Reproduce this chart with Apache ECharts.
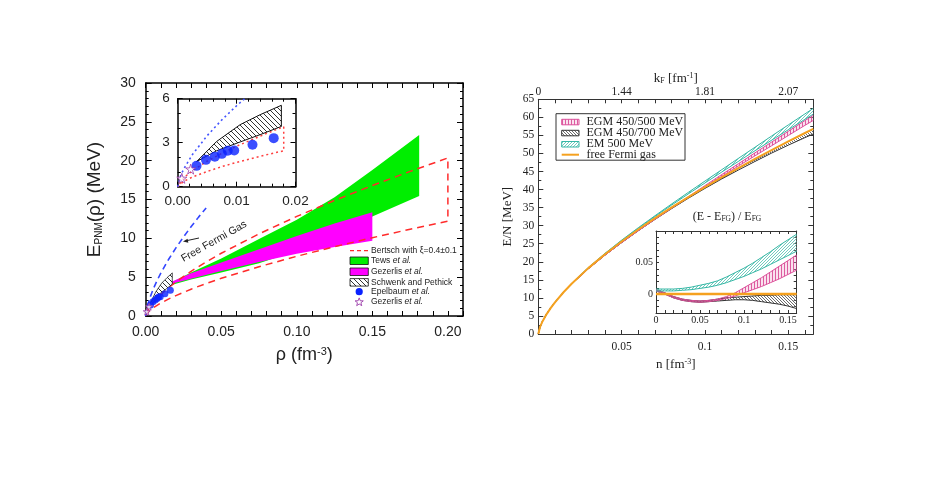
<!DOCTYPE html>
<html><head><meta charset="utf-8">
<script src="https://cdn.jsdelivr.net/npm/echarts@6/dist/echarts.min.js"></script>
<style>html,body{margin:0;padding:0;background:#fff}#c{width:926px;height:491px}</style>
</head><body><div id="c"></div>
<script>
// ---------------- LEFT PANEL DATA ----------------
const rhoFFG = [0, 0.0005, 0.001, 0.0025, 0.005, 0.0075, 0.01, 0.015, 0.02, 0.025, 0.03, 0.035, 0.04];
const eFFG   = [0, 0.75, 1.19, 2.19, 3.48, 4.56, 5.52, 7.24, 8.77, 10.17, 11.49, 12.73, 13.92];
const rhoBertsch   = [0, 0.001, 0.0025, 0.005, 0.0075, 0.01, 0.015, 0.02, 0.03, 0.04, 0.05, 0.075, 0.1, 0.125, 0.15, 0.175, 0.2];
const bertschUpper = [0, 0.60, 1.10, 1.74, 2.28, 2.76, 3.62, 4.39, 5.75, 6.96, 8.08, 10.58, 12.82, 14.88, 16.80, 18.62, 20.35];
const bertschLower = [0, 0.36, 0.66, 1.04, 1.37, 1.66, 2.17, 2.63, 3.45, 4.18, 4.85, 6.35, 7.69, 8.93, 10.08, 11.17, 12.21];
const rhoBertschInset   = [0, 0.001, 0.0025, 0.005, 0.0075, 0.01, 0.015, 0.018];
const bertschUpperInset = [0, 0.60, 1.10, 1.74, 2.28, 2.76, 3.62, 4.09];
const bertschLowerInset = [0, 0.36, 0.66, 1.04, 1.37, 1.66, 2.17, 2.45];
const rhoTews   = [0.017, 0.03, 0.05, 0.075, 0.1, 0.125, 0.15, 0.181];
const tewsUpper = [4.3, 5.6, 7.4, 9.9, 12.4, 15.3, 18.8, 23.3];
const tewsLower = [4.0, 4.7, 5.6, 6.8, 8.4, 10.4, 12.8, 15.45];
const rhoGez   = [0.016, 0.03, 0.05, 0.075, 0.1, 0.125, 0.15];
const gezUpper = [4.3, 5.5, 6.9, 8.6, 10.3, 11.9, 13.35];
const gezLower = [4.1, 4.8, 5.8, 6.95, 8.0, 8.9, 9.7];
const rhoSP   = [0.0032, 0.0066, 0.0106, 0.014, 0.0176];
const spUpper = [1.71, 3.08, 4.23, 4.91, 5.55];
const spLower = [1.71, 2.45, 3.05, 3.55, 4.11];
const rhoEpel = [0.0032, 0.0048, 0.0063, 0.0075, 0.0085, 0.0096, 0.0127, 0.0163];
const eEpel   = [1.42, 1.83, 2.05, 2.24, 2.45, 2.47, 2.86, 3.31];
const rhoQMC = [0.0007, 0.0022];
const eQMC   = [0.57, 1.2];
const leftXTickVals = [0, 0.05, 0.1, 0.15, 0.2];
const leftXTickLabels = ['0.00', '0.05', '0.10', '0.15', '0.20'];
const insetXTickVals = [0, 0.01, 0.02];
const insetXTickLabels = ['0.00', '0.01', '0.02'];

// ---------------- RIGHT PANEL DATA ----------------
const nGrid = [0, 0.001, 0.0025, 0.005, 0.0075, 0.01, 0.015, 0.02, 0.03, 0.04, 0.05, 0.06, 0.07, 0.08, 0.09, 0.1, 0.11, 0.12, 0.13, 0.14, 0.15, 0.16, 0.165];
const eFreeGas = [0, 1.89, 3.48, 5.52, 7.24, 8.77, 11.49, 13.92, 18.24, 22.09, 25.63, 28.95, 32.08, 35.07, 37.93, 40.69, 43.36, 45.95, 48.47, 50.92, 53.32, 55.67, 56.82];
const tealTop = [0, 1.91, 3.51, 5.56, 7.30, 8.84, 11.58, 14.03, 18.40, 22.33, 25.99, 29.44, 32.75, 36.02, 39.22, 42.36, 45.48, 48.62, 51.72, 54.84, 57.91, 60.96, 62.50];
const tealBot = [0, 1.90, 3.50, 5.55, 7.28, 8.81, 11.55, 13.99, 18.35, 22.24, 25.86, 29.27, 32.53, 35.70, 38.80, 41.83, 44.83, 47.79, 50.75, 53.67, 56.57, 59.46, 60.91];
const pinkTop = [0, 1.90, 3.50, 5.55, 7.27, 8.79, 11.48, 13.86, 18.09, 21.87, 25.35, 28.66, 31.82, 34.93, 38.01, 41.10, 44.14, 47.14, 50.17, 53.16, 56.15, 59.12, 60.57];
const pinkBot = [0, 1.90, 3.49, 5.54, 7.25, 8.77, 11.44, 13.84, 18.06, 21.83, 25.30, 28.60, 31.76, 34.82, 37.82, 40.77, 43.66, 46.50, 49.34, 52.14, 54.97, 57.79, 59.15];
const blackTop = [0, 1.90, 3.50, 5.55, 7.27, 8.79, 11.48, 13.86, 18.09, 21.87, 25.35, 28.66, 31.82, 34.86, 37.74, 40.53, 43.23, 45.86, 48.37, 50.87, 53.27, 55.61, 56.76];
const blackBot = [0, 1.90, 3.49, 5.54, 7.25, 8.77, 11.44, 13.84, 18.06, 21.83, 25.30, 28.60, 31.73, 34.72, 37.59, 40.32, 42.93, 45.40, 47.79, 50.11, 52.31, 54.39, 55.40];
const nInset = [0, 0.01, 0.02, 0.03, 0.04, 0.05, 0.06, 0.07, 0.08, 0.09, 0.1, 0.11, 0.12, 0.13, 0.14, 0.15, 0.16];
const tealTopD  = [0.008, 0.008, 0.008, 0.009, 0.011, 0.014, 0.017, 0.021, 0.027, 0.034, 0.041, 0.049, 0.058, 0.067, 0.077, 0.086, 0.095];
const tealBotD  = [0.005, 0.005, 0.005, 0.006, 0.007, 0.009, 0.011, 0.014, 0.018, 0.023, 0.028, 0.034, 0.040, 0.047, 0.054, 0.061, 0.068];
const pinkTopD  = [0.007, 0.002, -0.004, -0.008, -0.010, -0.011, -0.010, -0.008, -0.004, 0.002, 0.010, 0.018, 0.026, 0.035, 0.044, 0.053, 0.062];
const pinkBotD  = [0.005, 0.0, -0.006, -0.010, -0.012, -0.013, -0.012, -0.010, -0.007, -0.003, 0.002, 0.007, 0.012, 0.018, 0.024, 0.031, 0.038];
const blackTopD = [0.007, 0.002, -0.004, -0.008, -0.010, -0.011, -0.010, -0.008, -0.006, -0.005, -0.004, -0.003, -0.002, -0.002, -0.001, -0.001, -0.001];
const blackBotD = [0.005, 0.0, -0.006, -0.010, -0.012, -0.013, -0.012, -0.011, -0.010, -0.009, -0.009, -0.010, -0.012, -0.014, -0.016, -0.019, -0.023];
const nFGInset = [0, 0.16];
const fgD = [0, 0];
const nTickVals = [0.05, 0.1, 0.15];
const nTickLabels = ['0.05', '0.1', '0.15'];
const kFTickVals = [0, 0.05, 0.1, 0.15];
const kFTickLabels = ['0', '1.44', '1.81', '2.07'];
const insetNTickVals = [0, 0.05, 0.1, 0.15];
const insetNTickLabels = ['0', '0.05', '0.1', '0.15'];
const insetDTickVals = [0, 0.05];
const insetDTickLabels = ['0', '0.05'];

// ---------------- HELPERS ----------------
const SANS = 'Liberation Sans, Arial, sans-serif';
const SERIF = 'Liberation Serif, Times New Roman, serif';
const zip = (xs, ys) => xs.map((x, i) => [x, ys[i]]);
const fmt = (vals, labels) => v => { for (let i = 0; i < vals.length; i++) if (Math.abs(vals[i] - v) < 1e-7) return labels[i]; return ''; };

function hatch(color, bg, dir, s, lw) {
  const c = document.createElement('canvas'); c.width = s; c.height = s;
  const ctx = c.getContext('2d');
  if (bg) { ctx.fillStyle = bg; ctx.fillRect(0, 0, s, s); }
  ctx.strokeStyle = color; ctx.lineWidth = lw; ctx.beginPath();
  if (dir === 'v') { ctx.moveTo(s / 2, 0); ctx.lineTo(s / 2, s); }
  else if (dir === 'b') { for (let k = -1; k <= 1; k++) { ctx.moveTo(k * s, 0); ctx.lineTo(k * s + s, s); } }
  else { for (let k = 0; k <= 2; k++) { ctx.moveTo(k * s, 0); ctx.lineTo(k * s - s, s); } }
  ctx.stroke();
  return { image: c, repeat: 'repeat' };
}
const spHatch = hatch('#333', '#fff', 'b', 5, 1);
const pinkHatch = hatch('#d94d97', 'rgba(240,170,205,0.35)', 'v', 3, 0.9);
const blackHatch = hatch('#444', 'rgba(255,255,255,0.2)', 'b', 3, 0.8);
const tealHatch = hatch('#4cbfae', 'rgba(255,255,255,0.2)', 'f', 3, 0.8);

function band(xs, top, bot, xi, yi, style, z) {
  const pts = zip(xs, top).concat(zip(xs, bot).reverse());
  return {
    type: 'custom', coordinateSystem: 'cartesian2d', xAxisIndex: xi, yAxisIndex: yi, clip: true, z: z, silent: true,
    data: pts,
    renderItem: (params, api) => params.dataIndex !== 0 ? null : ({ type: 'polygon', shape: { points: pts.map(p => api.coord(p)) }, style: style })
  };
}
function line(data, xi, yi, ls, z) {
  return { type: 'line', xAxisIndex: xi, yAxisIndex: yi, data: data, showSymbol: false, symbol: 'none', silent: true, z: z, lineStyle: ls };
}
function ax(o) {
  const c = o.c || '#000';
  return Object.assign({
    type: 'value', gridIndex: o.g, min: o.min, max: o.max, interval: o.iv, position: o.pos,
    splitLine: { show: false },
    axisLine: { show: true, onZero: false, lineStyle: { color: c, width: o.w || 1 } },
    axisTick: { show: true, inside: true, length: o.tl || 5, lineStyle: { color: c, width: 1 } },
    minorTick: { show: !!o.minor, splitNumber: o.minor || 5, length: o.ml || 3, lineStyle: { color: c, width: 1 } },
    axisLabel: o.label ? Object.assign({ show: true }, o.label) : { show: false }
  }, o.extra || {});
}
function starPts(cx, cy, r) {
  const p = [];
  for (let i = 0; i < 10; i++) { const a = -Math.PI / 2 + i * Math.PI / 5; const rr = i % 2 ? r * 0.42 : r; p.push([cx + rr * Math.cos(a), cy + rr * Math.sin(a)]); }
  return p;
}
const STAR = 'path://M50,0 L61,35 L98,35 L68,57 L79,91 L50,70 L21,91 L32,57 L2,35 L39,35 Z';

const leftLabel = { fontFamily: SANS, fontSize: 14, color: '#222' };
const rightLabel = { fontFamily: SERIF, fontSize: 11.5, color: '#222' };
const LF = 8.5;
const richLeg = { n: { fontFamily: SANS, fontSize: LF, fill: '#222' }, i: { fontFamily: SANS, fontSize: LF, fontStyle: 'italic', fill: '#222' } };

const option = {
  animation: false,
  backgroundColor: '#fff',
  grid: [
    { left: 145.7, top: 83, width: 317.3, height: 233, show: false },
    { left: 177.7, top: 98.7, width: 117.8, height: 88, show: true, backgroundColor: '#fff', borderWidth: 0 },
    { left: 538.3, top: 99.3, width: 275, height: 234.7, show: false },
    { left: 656, top: 231, width: 140.7, height: 82, show: true, backgroundColor: '#fff', borderWidth: 0 }
  ],
  xAxis: [
    ax({ g: 0, min: 0, max: 0.21, iv: 0.01, pos: 'bottom', w: 1.5, tl: 5,
      label: Object.assign({ formatter: fmt(leftXTickVals, leftXTickLabels), margin: 9 }, leftLabel),
      extra: { name: '{e|ρ (fm}{p|-3}{e|)}', nameLocation: 'middle', nameGap: 30,
        nameTextStyle: { rich: { e: { fontFamily: SANS, fontSize: 18, color: '#222' }, p: { fontFamily: SANS, fontSize: 11, color: '#222', verticalAlign: 'top' } } } } }),
    ax({ g: 0, min: 0, max: 0.21, iv: 0.01, pos: 'top', w: 1.5, tl: 5 }),
    ax({ g: 1, min: 0, max: 0.02, iv: 0.01, pos: 'bottom', w: 1.5, tl: 5, minor: 5,
      label: Object.assign({ formatter: fmt(insetXTickVals, insetXTickLabels), margin: 8 }, leftLabel, { fontSize: 13.5 }) }),
    ax({ g: 1, min: 0, max: 0.02, iv: 0.01, pos: 'top', w: 1.5, tl: 5, minor: 5 }),
    ax({ g: 2, min: 0, max: 0.165, iv: 0.01, pos: 'bottom', c: '#333', tl: 4,
      label: Object.assign({ formatter: fmt(nTickVals, nTickLabels), margin: 7 }, rightLabel),
      extra: { name: '{e|n [fm}{p|-3}{e|]}', nameLocation: 'middle', nameGap: 24,
        nameTextStyle: { rich: { e: { fontFamily: SERIF, fontSize: 13, color: '#222' }, p: { fontFamily: SERIF, fontSize: 8, color: '#222', verticalAlign: 'top' } } } } }),
    ax({ g: 2, min: 0, max: 0.165, iv: 0.01, pos: 'top', c: '#333', tl: 4,
      label: Object.assign({ formatter: fmt(kFTickVals, kFTickLabels), margin: 1 }, rightLabel),
      extra: { name: '{e|k}{s|F}{e| [fm}{p|-1}{e|]}', nameLocation: 'middle', nameGap: 14,
        nameTextStyle: { rich: { e: { fontFamily: SERIF, fontSize: 13, color: '#222' }, s: { fontFamily: SERIF, fontSize: 8, color: '#222', verticalAlign: 'bottom' }, p: { fontFamily: SERIF, fontSize: 8, color: '#222', verticalAlign: 'top' } } } } }),
    ax({ g: 3, min: 0, max: 0.16, iv: 0.01, pos: 'bottom', c: '#333', tl: 3,
      label: Object.assign({ formatter: fmt(insetNTickVals, insetNTickLabels), margin: 2 }, rightLabel, { fontSize: 10 }) }),
    ax({ g: 3, min: 0, max: 0.16, iv: 0.01, pos: 'top', c: '#333', tl: 3 })
  ],
  yAxis: [
    ax({ g: 0, min: 0, max: 30, iv: 5, pos: 'left', w: 1.5, tl: 6, minor: 5,
      label: Object.assign({ margin: 10 }, leftLabel),
      extra: { name: '{e|E}{s|PNM}{e|(ρ) (MeV)}', nameLocation: 'middle', nameGap: 41, nameRotate: 90,
        nameTextStyle: { rich: { e: { fontFamily: SANS, fontSize: 19, color: '#222' }, s: { fontFamily: SANS, fontSize: 10, color: '#222', verticalAlign: 'bottom' } } } } }),
    ax({ g: 0, min: 0, max: 30, iv: 5, pos: 'right', w: 1.5, tl: 6, minor: 5 }),
    ax({ g: 1, min: 0, max: 6, iv: 3, pos: 'left', w: 1.5, tl: 5, minor: 3,
      label: Object.assign({ margin: 8 }, leftLabel, { fontSize: 13.5 }) }),
    ax({ g: 1, min: 0, max: 6, iv: 3, pos: 'right', w: 1.5, tl: 5, minor: 3 }),
    ax({ g: 2, min: 0, max: 65, iv: 5, pos: 'left', c: '#333', tl: 5, minor: 2,
      label: Object.assign({ margin: 4 }, rightLabel),
      extra: { name: 'E/N [MeV]', nameLocation: 'middle', nameGap: 24, nameRotate: 90,
        nameTextStyle: { fontFamily: SERIF, fontSize: 13, color: '#222' } } }),
    ax({ g: 2, min: 0, max: 65, iv: 5, pos: 'right', c: '#333', tl: 5, minor: 2 }),
    ax({ g: 3, min: -0.03, max: 0.1, iv: 0.01, pos: 'left', c: '#333', tl: 3,
      label: Object.assign({ formatter: fmt(insetDTickVals, insetDTickLabels), margin: 3 }, rightLabel, { fontSize: 10 }) }),
    ax({ g: 3, min: -0.03, max: 0.1, iv: 0.01, pos: 'right', c: '#333', tl: 3 })
  ],
  series: [
    // left main
    band(rhoTews, tewsUpper, tewsLower, 0, 0, { fill: '#00ee00' }, 2),
    band(rhoGez, gezUpper, gezLower, 0, 0, { fill: '#ff00ff' }, 3),
    line(zip(rhoBertsch, bertschLower).concat(zip(rhoBertsch, bertschUpper).reverse()), 0, 0, { color: '#ff2b2b', width: 1.5, type: [7, 5] }, 4),
    line(zip(rhoFFG, eFFG), 0, 0, { color: '#3346ff', width: 1.6, type: [6, 4] }, 4),
    band(rhoSP, spUpper, spLower, 0, 0, { fill: spHatch, stroke: '#222', lineWidth: 0.8 }, 5),
    { type: 'scatter', xAxisIndex: 0, yAxisIndex: 0, data: zip(rhoEpel, eEpel), symbol: 'circle', symbolSize: 7, itemStyle: { color: '#0a22ff' }, z: 6, silent: true },
    { type: 'scatter', xAxisIndex: 0, yAxisIndex: 0, data: zip(rhoQMC, eQMC), symbol: STAR, symbolSize: 7, itemStyle: { color: '#fff', borderColor: '#9a3aa8', borderWidth: 1 }, z: 7, silent: true },
    // left inset
    line(zip(rhoBertschInset, bertschLowerInset).concat(zip(rhoBertschInset, bertschUpperInset).reverse()), 2, 2, { color: '#ff4040', width: 1.5, type: [2, 3] }, 4),
    line(zip(rhoFFG, eFFG), 2, 2, { color: '#4455ff', width: 1.6, type: [2, 3] }, 4),
    band(rhoSP, spUpper, spLower, 2, 2, { fill: spHatch, stroke: '#111', lineWidth: 1 }, 5),
    { type: 'scatter', xAxisIndex: 2, yAxisIndex: 2, data: zip(rhoEpel, eEpel), symbol: 'circle', symbolSize: 10, itemStyle: { color: '#0a22ff' }, z: 6, silent: true },
    { type: 'scatter', xAxisIndex: 2, yAxisIndex: 2, data: zip(rhoQMC, eQMC), symbol: STAR, symbolSize: 10, itemStyle: { color: '#fff', borderColor: '#9a3aa8', borderWidth: 1 }, z: 7, silent: true },
    // right main
    band(nGrid, blackTop, blackBot, 4, 4, { fill: blackHatch }, 2),
    line(zip(nGrid, blackTop), 4, 4, { color: '#333', width: 1 }, 3),
    line(zip(nGrid, blackBot), 4, 4, { color: '#333', width: 1 }, 3),
    band(nGrid, pinkTop, pinkBot, 4, 4, { fill: pinkHatch }, 2),
    line(zip(nGrid, pinkTop), 4, 4, { color: '#dd4f9a', width: 1 }, 3),
    line(zip(nGrid, pinkBot), 4, 4, { color: '#dd4f9a', width: 1 }, 3),
    band(nGrid, tealTop, tealBot, 4, 4, { fill: tealHatch }, 2),
    line(zip(nGrid, tealTop), 4, 4, { color: '#35b7a5', width: 1 }, 3),
    line(zip(nGrid, tealBot), 4, 4, { color: '#35b7a5', width: 1 }, 3),
    line(zip(nGrid, eFreeGas), 4, 4, { color: '#f5a11f', width: 2 }, 4),
    // right inset
    band(nInset, blackTopD, blackBotD, 6, 6, { fill: blackHatch }, 2),
    line(zip(nInset, blackTopD), 6, 6, { color: '#333', width: 1 }, 3),
    line(zip(nInset, blackBotD), 6, 6, { color: '#333', width: 1 }, 3),
    band(nInset, pinkTopD, pinkBotD, 6, 6, { fill: pinkHatch }, 2),
    line(zip(nInset, pinkTopD), 6, 6, { color: '#dd4f9a', width: 1 }, 3),
    line(zip(nInset, pinkBotD), 6, 6, { color: '#dd4f9a', width: 1 }, 3),
    band(nInset, tealTopD, tealBotD, 6, 6, { fill: tealHatch }, 2),
    line(zip(nInset, tealTopD), 6, 6, { color: '#35b7a5', width: 1 }, 3),
    line(zip(nInset, tealBotD), 6, 6, { color: '#35b7a5', width: 1 }, 3),
    line(zip(nFGInset, fgD), 6, 6, { color: '#f5a11f', width: 2.5 }, 4)
  ],
  graphic: [
    // Free Fermi Gas annotation
    { type: 'text', x: 214, y: 241.5, rotation: 29.4 * Math.PI / 180, z: 20,
      style: { text: 'Free Fermi Gas', fontFamily: SANS, fontSize: 10.5, fill: '#222', align: 'center', verticalAlign: 'middle' } },
    { type: 'line', z: 20, shape: { x1: 199, y1: 238, x2: 186, y2: 240.8 }, style: { stroke: '#222', lineWidth: 1 } },
    { type: 'polygon', z: 20, shape: { points: [[183, 241.5], [188.3, 242.7], [187.6, 238.8]] }, style: { fill: '#222' } },
    // left legend
    { type: 'line', z: 20, shape: { x1: 350, y1: 250.7, x2: 368.3, y2: 250.7 }, style: { stroke: '#ff2b2b', lineWidth: 1.2, lineDash: [4, 3] } },
    { type: 'rect', z: 20, shape: { x: 350, y: 257, width: 18.3, height: 7.5 }, style: { fill: '#00ee00', stroke: '#111', lineWidth: 0.8 } },
    { type: 'rect', z: 20, shape: { x: 350, y: 268, width: 18.3, height: 7.5 }, style: { fill: '#ff00ff', stroke: '#111', lineWidth: 0.8 } },
    { type: 'rect', z: 20, shape: { x: 350, y: 278.6, width: 18.3, height: 7.5 }, style: { fill: spHatch, stroke: '#111', lineWidth: 0.8 } },
    { type: 'circle', z: 20, shape: { cx: 359.2, cy: 291.7, r: 3.6 }, style: { fill: '#0a22ff' } },
    { type: 'polygon', z: 20, shape: { points: starPts(359.2, 302.2, 4.3) }, style: { fill: '#fff', stroke: '#9a3aa8', lineWidth: 0.9 } },
    { type: 'text', z: 20, x: 371, y: 250.7, style: { text: 'Bertsch with ξ=0.4±0.1', fontFamily: SANS, fontSize: LF, fill: '#222', verticalAlign: 'middle' } },
    { type: 'text', z: 20, x: 371, y: 260.7, style: { text: '{n|Tews }{i|et al.}', rich: richLeg, verticalAlign: 'middle' } },
    { type: 'text', z: 20, x: 371, y: 271.7, style: { text: '{n|Gezerlis }{i|et al.}', rich: richLeg, verticalAlign: 'middle' } },
    { type: 'text', z: 20, x: 371, y: 282.3, style: { text: 'Schwenk and Pethick', fontFamily: SANS, fontSize: LF, fill: '#222', verticalAlign: 'middle' } },
    { type: 'text', z: 20, x: 371, y: 291.7, style: { text: '{n|Epelbaum }{i|et al.}', rich: richLeg, verticalAlign: 'middle' } },
    { type: 'text', z: 20, x: 371, y: 301.9, style: { text: '{n|Gezerlis }{i|et al.}', rich: richLeg, verticalAlign: 'middle' } },
    // right legend
    { type: 'rect', z: 20, shape: { x: 556, y: 113.7, width: 129, height: 46.5 }, style: { fill: '#fff', stroke: '#333', lineWidth: 1 } },
    { type: 'rect', z: 21, shape: { x: 561.7, y: 119.3, width: 17.3, height: 5.5 }, style: { fill: pinkHatch, stroke: '#dd4f9a', lineWidth: 1 } },
    { type: 'rect', z: 21, shape: { x: 561.7, y: 130.3, width: 17.3, height: 5.5 }, style: { fill: blackHatch, stroke: '#333', lineWidth: 1 } },
    { type: 'rect', z: 21, shape: { x: 561.7, y: 141.5, width: 17.3, height: 5.5 }, style: { fill: tealHatch, stroke: '#35b7a5', lineWidth: 1 } },
    { type: 'line', z: 21, shape: { x1: 561.7, y1: 154.7, x2: 579, y2: 154.7 }, style: { stroke: '#f5a11f', lineWidth: 2 } },
    { type: 'text', z: 21, x: 586.5, y: 122.2, style: { text: 'EGM 450/500 MeV', fontFamily: SERIF, fontSize: 12, fill: '#222', verticalAlign: 'middle' } },
    { type: 'text', z: 21, x: 586.5, y: 133.2, style: { text: 'EGM 450/700 MeV', fontFamily: SERIF, fontSize: 12, fill: '#222', verticalAlign: 'middle' } },
    { type: 'text', z: 21, x: 586.5, y: 144.3, style: { text: 'EM 500 MeV', fontFamily: SERIF, fontSize: 12, fill: '#222', verticalAlign: 'middle' } },
    { type: 'text', z: 21, x: 586.5, y: 154.7, style: { text: 'free Fermi gas', fontFamily: SERIF, fontSize: 12, fill: '#222', verticalAlign: 'middle' } },
    // inset title
    { type: 'text', z: 21, x: 727, y: 216.7, style: { text: '{e|(E - E}{s|FG}{e|) / E}{s|FG}', align: 'center', verticalAlign: 'middle',
      rich: { e: { fontFamily: SERIF, fontSize: 12, fill: '#222' }, s: { fontFamily: SERIF, fontSize: 7.5, fill: '#222', verticalAlign: 'bottom' } } } }
  ]
};
const chart = echarts.init(document.getElementById('c'), null, { renderer: 'canvas' });
chart.setOption(option);
</script>
</body></html>
